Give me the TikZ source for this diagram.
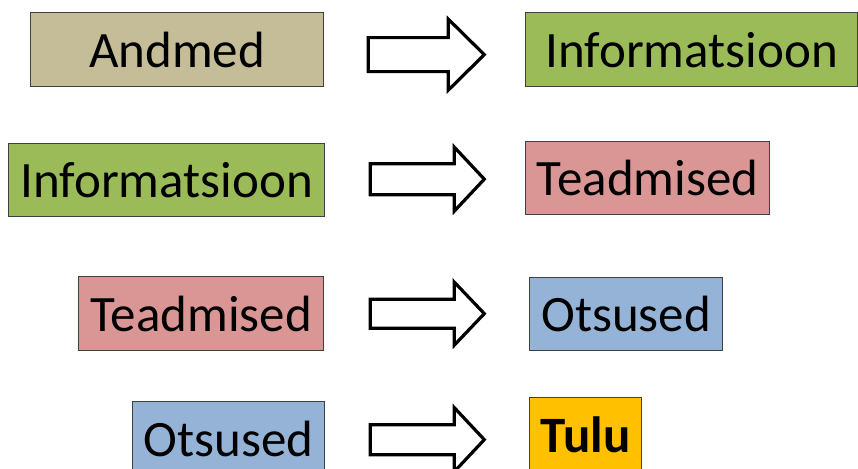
\documentclass[tikz,border=0pt]{standalone}
\usepackage{fontspec}
\setmainfont{Carlito}
\usepackage{tikz}
\usetikzlibrary{calc}

\definecolor{tanfill}{HTML}{C4BD97}
\definecolor{greenfill}{HTML}{9BBB59}
\definecolor{pinkfill}{HTML}{D99694}
\definecolor{bluefill}{HTML}{95B3D7}
\definecolor{goldfill}{HTML}{FFC000}
\definecolor{boxline}{HTML}{404040}

\tikzset{
  wordbox/.style={draw=boxline, line width=1.3pt, anchor=north west,
    inner sep=0pt, font=\fontsize{51}{61}\selectfont},
  arrowline/.style={draw=black, line width=3.2pt, fill=white, line join=miter}
}

% start, shaft half height, head half height, shaft length, head length
\newcommand{\blockarrow}[5]{%
  \draw[arrowline] (#1) ++(0,-#2) -- ++(#4,0) -- ++(0,{#2-#3}) -- ++(#5,#3)
    -- ++(-#5,#3) -- ++(0,{#2-#3}) -- ++(-#4,0) -- cycle;}

\begin{document}
\begin{tikzpicture}[x=1pt,y=-1pt]
  \useasboundingbox (0,0) rectangle (858,468);
  \clip (0,0) rectangle (858,468);

  % left column
  \node[wordbox, fill=tanfill, minimum width=293pt, minimum height=74pt] (andmedL) at (30,12) {Andmed};
  \node[wordbox, fill=greenfill, minimum width=316pt, minimum height=73pt] (infoL) at (8,143) {Informatsioon};
  \node[wordbox, fill=pinkfill, minimum width=245pt, minimum height=74pt] (teadL) at (78,276) {Teadmised};
  \node[wordbox, fill=bluefill, minimum width=192pt, minimum height=74pt] (otsL) at (132,401) {Otsused};

  % right column
  \node[wordbox, fill=greenfill, minimum width=332pt, minimum height=74pt] (infoR) at (525,12) {Informatsioon};
  \node[wordbox, fill=pinkfill, minimum width=244pt, minimum height=73pt] (teadR) at (525,141) {Teadmised};
  \node[wordbox, fill=bluefill, minimum width=193pt, minimum height=73pt] (otsR) at (529,277) {Otsused};
  \node[wordbox, fill=goldfill, minimum width=112pt, minimum height=74pt, font=\fontsize{51}{61}\selectfont\bfseries] (tuluR) at (529,397) {Tulu};

  % block arrows
  \coordinate (a1) at ($(andmedL.east)+(44,5)$);
  \coordinate (a2) at ($(infoL.east)+(45,-1)$);
  \coordinate (a3) at ($(teadL.east)+(46,0)$);
  \coordinate (a4) at ($(otsL.east)+(45,1)$);
  \blockarrow{a1}{17}{35.5}{80}{36}
  \blockarrow{a2}{15.5}{32}{84}{30}
  \blockarrow{a3}{14.5}{31.5}{84}{30}
  \blockarrow{a4}{15}{32}{84}{30}
\end{tikzpicture}
\end{document}
